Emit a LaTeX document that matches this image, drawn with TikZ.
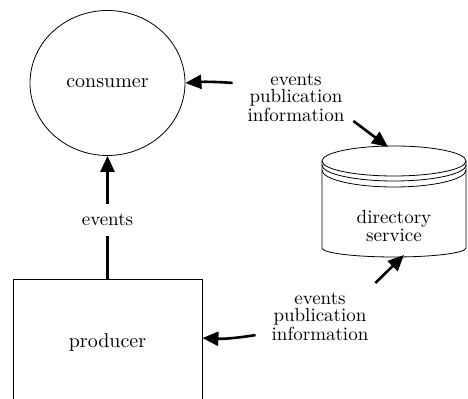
\documentclass[tikz,border=0pt]{standalone}
\usepackage{tikz}
\usetikzlibrary{arrows.meta,positioning,shapes.geometric}
\tikzset{
  disc/.style={draw,thin,ellipse,minimum width=77.5pt,minimum height=72.5pt,inner sep=0pt},
  box/.style={draw,thin,rectangle,minimum width=94.5pt,minimum height=64pt},
  lab/.style={align=center,font=\fontsize{9.5}{8.5}\selectfont},
  arr/.style={-{Triangle[length=8pt,width=7pt]},line width=1.3pt},
  line/.style={line width=1.3pt},
}

\begin{document}
\begin{tikzpicture}[x=0.5pt,y=-0.5pt]
    \clip (0,0) rectangle (468,399);
    \node[disc] (cons) at (107.5,83) {consumer};
    \node[box] (prod) at (107.5,343) {producer};
    \node[lab,inner sep=5pt] (ev) at (107.5,220) {events};
    \node[lab] (pub1) at (296,98) {events\\publication\\information};
    \node[lab] (pub2) at (320,317) {events\\publication\\information};
    % directory service drum
    \draw[thin] (394,161) ellipse [x radius=36pt,y radius=7.5pt];
    \draw[thin] (322,165) arc[start angle=180,end angle=360,x radius=36pt,y radius=8pt];
    \draw[thin] (322,170) arc[start angle=180,end angle=360,x radius=36pt,y radius=8.5pt];
    \draw[thin] (322,161) -- (322,248) arc[start angle=180,end angle=360,x radius=36pt,y radius=4.5pt] -- (466,161);
    \node[align=center,font=\fontsize{9.5}{9}\selectfont] (dir) at (394,226) {directory\\service};
    \coordinate (dirtop) at (388,147);
    \coordinate (dirbot) at (404,255);
    \draw[line] (prod.north) -- (ev.south);
    \draw[arr] (ev.north) -- (cons.south);
    \draw[arr] ([xshift=-4pt,yshift=-8pt]pub1.north west) to[bend right=4] (cons.east);
    \draw[arr] ([xshift=1pt,yshift=4pt]pub1.south east) -- (dirtop);
    \draw[arr] ([xshift=-4.5pt,yshift=6.5pt]pub2.south west) to[bend left=6] ([yshift=2.5pt]prod.east);
    \draw[arr] ([yshift=1.5pt]pub2.north east) -- (dirbot);
  \end{tikzpicture}
\end{document}
